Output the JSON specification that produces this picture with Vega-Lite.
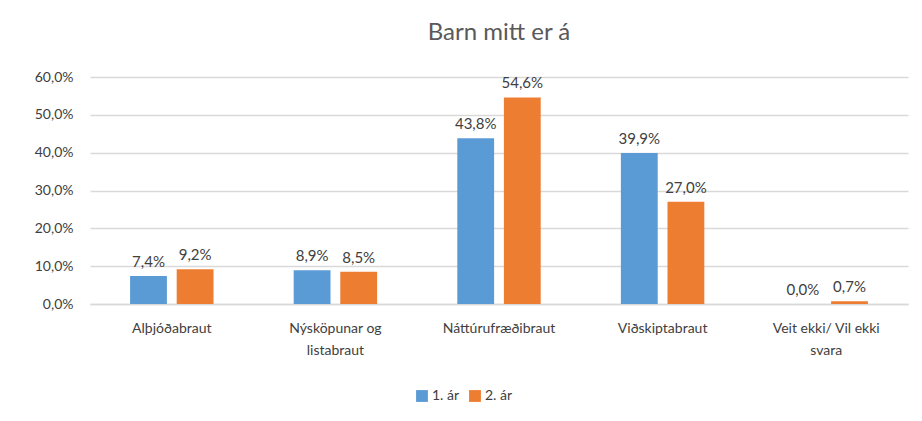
{
  "$schema": "https://vega.github.io/schema/vega-lite/v6.json",
  "width": 818,
  "height": 227,
  "autosize": {"type": "none"},
  "padding": {"left": 90, "top": 77, "right": 14, "bottom": 117},
  "background": "white",
  "config": {
    "locale": {"number": {"decimal": ",", "thousands": ".", "grouping": [3], "currency": ["", " kr."]}},
    "font": "Lato",
    "view": {"stroke": null}
  },
  "title": {
    "text": "Barn mitt er á",
    "fontSize": 24,
    "font": "Lato",
    "fontWeight": "normal",
    "color": "#595959",
    "anchor": "middle",
    "offset": 25
  },
  "data": {
    "values": [
      {"braut": "Alþjóðabraut", "ar": "1. ár", "v": 0.074},
      {"braut": "Alþjóðabraut", "ar": "2. ár", "v": 0.092},
      {"braut": "Nýsköpunar og listabraut", "ar": "1. ár", "v": 0.089},
      {"braut": "Nýsköpunar og listabraut", "ar": "2. ár", "v": 0.085},
      {"braut": "Náttúrufræðibraut", "ar": "1. ár", "v": 0.438},
      {"braut": "Náttúrufræðibraut", "ar": "2. ár", "v": 0.546},
      {"braut": "Viðskiptabraut", "ar": "1. ár", "v": 0.399},
      {"braut": "Viðskiptabraut", "ar": "2. ár", "v": 0.270},
      {"braut": "Veit ekki/ Vil ekki svara", "ar": "1. ár", "v": 0.0},
      {"braut": "Veit ekki/ Vil ekki svara", "ar": "2. ár", "v": 0.007}
    ]
  },
  "encoding": {
    "x": {
      "field": "braut", "type": "nominal", "sort": null,
      "scale": {"paddingInner": 0.49, "paddingOuter": 0.245},
      "axis": {
        "title": null, "labelAngle": 0, "ticks": false,
        "domainColor": "#d9d9d9", "domainWidth": 1.5,
        "labelColor": "#404040", "labelFontSize": 14, "labelPadding": 17,
        "labelLineHeight": 22,
        "labelExpr": "datum.value == 'Nýsköpunar og listabraut' ? ['Nýsköpunar og', 'listabraut'] : datum.value == 'Veit ekki/ Vil ekki svara' ? ['Veit ekki/ Vil ekki', 'svara'] : datum.value"
      }
    },
    "xOffset": {"field": "ar", "type": "nominal", "scale": {"paddingInner": 0.21}},
    "y": {
      "field": "v", "type": "quantitative",
      "scale": {"domain": [0, 0.6], "nice": false},
      "axis": {
        "title": null, "format": ".1%", "values": [0, 0.1, 0.2, 0.3, 0.4, 0.5, 0.6],
        "labelOverlap": false,
        "domain": false, "ticks": false, "gridColor": "#d9d9d9", "gridWidth": 1.5,
        "labelColor": "#404040", "labelFontSize": 14, "labelPadding": 17
      }
    }
  },
  "layer": [
    {
      "mark": {"type": "bar"},
      "encoding": {
        "color": {
          "field": "ar", "type": "nominal",
          "scale": {"domain": ["1. ár", "2. ár"], "range": ["#5b9bd5", "#ed7d31"]},
          "legend": {
            "title": null, "orient": "none", "direction": "horizontal",
            "legendX": 325, "legendY": 312,
            "symbolType": "square", "symbolSize": 140, "symbolStrokeWidth": 0,
            "labelFontSize": 14, "labelColor": "#404040", "columnPadding": 8, "labelOffset": 3
          }
        }
      }
    },
    {
      "mark": {"type": "text", "dy": -14, "fontSize": 15, "color": "#404040"},
      "encoding": {
        "text": {"field": "v", "type": "quantitative", "format": ".1%"}
      }
    }
  ]
}
